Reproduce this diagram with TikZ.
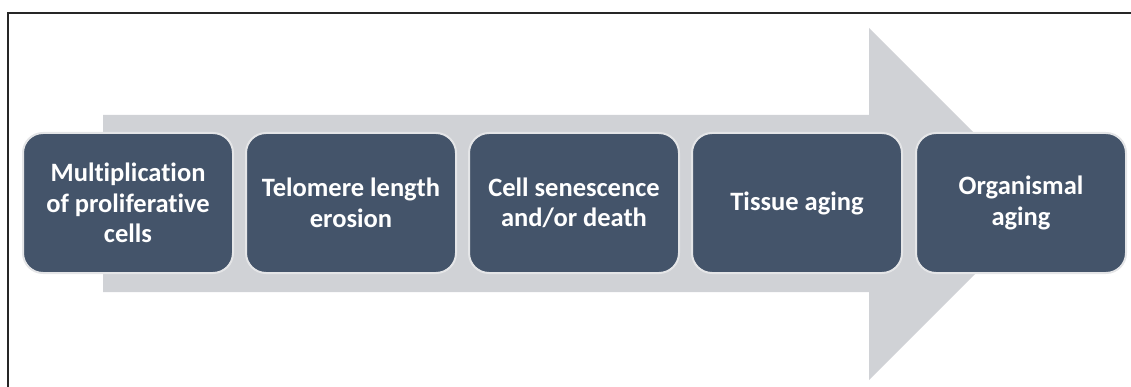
\documentclass[tikz,border=0pt]{standalone}
\usepackage{fontspec}
\setmainfont{Carlito}[Ligatures=NoCommon]
\begin{document}
\begin{tikzpicture}[x=1pt,y=-1pt,
  stagebox/.style={draw=boxedge,line width=2pt,fill=boxfill,rounded corners=20pt,
    minimum width=210pt,minimum height=140pt,text=white,align=center,
    font=\fontsize{26.5}{30.5}\selectfont\bfseries,inner sep=2pt},
  bigarrow/.style={fill=arrowgrey,draw=none}]
\definecolor{boxfill}{HTML}{44546A}
\definecolor{boxedge}{HTML}{E4E5E7}
\definecolor{arrowgrey}{HTML}{D0D2D6}
\useasboundingbox (0,0) rectangle (1131,387);
\clip (0,0) rectangle (1131,387);
\draw[line width=1.2pt,draw=black!85] (8,13) rectangle (1150,410);
\fill[bigarrow] (103,115) -- (869,115) -- (869,28) -- (1045,204) -- (869,380) -- (869,292) -- (103,292) -- cycle;
\node[stagebox] (s1) at (128,203) {Multiplication\\of proliferative\\cells};
\node[stagebox] (s2) at (351,203) {Telomere length\\erosion};
\node[stagebox] (s3) at (574,203) {Cell senescence\\and/or death};
\node[stagebox] (s4) at (797,203) {Tissue aging};
\node[stagebox] (s5) at (1021,203) {Organismal\\aging};
\end{tikzpicture}
\end{document}
